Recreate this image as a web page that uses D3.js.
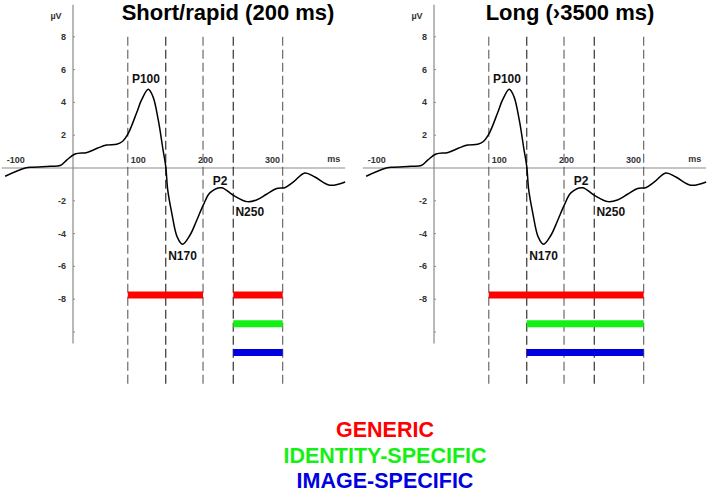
<!DOCTYPE html>
<html>
<head>
<meta charset="utf-8">
<script src="https://cdn.jsdelivr.net/npm/d3@7"></script>
<style>
  body { margin: 0; background: #fff; }
  svg { display: block; font-family: Arial, "Liberation Sans", sans-serif; }
</style>
</head>
<body>
<svg id="chart" width="708" height="493"></svg>
<script>
// ERP waveform (same in both panels), ms and µV
const waveMs = [-101, -71, -60, -34, -19, -9, 3, 21, 36, 50, 65, 73, 82, 95, 102, 112, 119, 127, 134, 138,
  141, 147, 155, 163, 174, 184, 194, 204, 221, 238, 259, 273, 288, 303, 315, 328, 345, 360, 382, 405];
const waveUv = [-0.5, 0, 0.05, 0.1, 0.15, 0.5, 0.85, 0.95, 1.2, 1.4, 1.45, 1.6, 2.1, 3.4, 4.15, 4.8, 4.35, 2.9, 1.1, 0.1,
  -1.35, -2.75, -4.2, -4.65, -4.1, -3.2, -2.25, -1.5, -1.2, -1.65, -2.05, -1.95, -1.6, -1.25, -1.2, -0.85, -0.3, -0.55, -1.05, -0.85];

const yTicks = [8, 6, 4, 2, -2, -4, -6, -8, -10];
const xTicks = [-100, 100, 200, 300];

// time-window boundaries (dashed lines), ms
const windowEdges = [81.5, 138, 193.5, 238.5, 312];

const panelTitles = ['Short/rapid (200 ms)', 'Long (\u203a3500 ms)'];

// effect bars per panel: [start ms, end ms]
const genericBars = [[[81.5, 193.5], [238.5, 312]], [[81.5, 312]]];
const identityBars = [[[238.5, 312]], [[138, 312]]];
const imageBars = [[[238.5, 312]], [[138, 312]]];

const peaks = [
  { name: 'P100', ms: 108.5, uv: 5.2 },
  { name: 'N170', ms: 163, uv: -5.6 },
  { name: 'P2', ms: 219, uv: -1.05 },
  { name: 'N250', ms: 263, uv: -2.9 }
];

const legendLabels = ['GENERIC', 'IDENTITY-SPECIFIC', 'IMAGE-SPECIFIC'];
const colors = ['#ff0000', '#14f014', '#0000e0'];

const svg = d3.select('#chart');

const axisX = [73, 434];
const titleX = [228, 570];

const y = d3.scaleLinear().domain([-10, 8]).range([332, 36.8]);

panelTitles.forEach((title, p) => {
  const x0 = axisX[p];
  const x = d3.scaleLinear().domain([0, 100]).range([x0, x0 + 67.2]);
  const g = svg.append('g');

  // axes
  g.append('line')
    .attr('x1', x(-106)).attr('x2', x(405))
    .attr('y1', y(0)).attr('y2', y(0))
    .attr('stroke', '#8a8a8a').attr('stroke-width', 1.2);
  g.append('line')
    .attr('x1', x0).attr('x2', x0)
    .attr('y1', y(9.95)).attr('y2', y(-10.7))
    .attr('stroke', '#8a8a8a').attr('stroke-width', 1.2);

  // y ticks
  yTicks.forEach(t => {
    g.append('line')
      .attr('x1', x0).attr('x2', x0 + 2)
      .attr('y1', y(t)).attr('y2', y(t))
      .attr('stroke', '#8a8a8a');
    if (t !== -10) {
      g.append('text')
        .attr('x', x0 - 7).attr('y', y(t) + 3)
        .attr('text-anchor', 'end')
        .attr('font-size', '9px').attr('font-weight', 'bold')
        .attr('fill', '#333')
        .text(t);
    }
  });
  g.append('text')
    .attr('x', x0 - 17).attr('y', 19)
    .attr('text-anchor', 'middle')
    .attr('font-size', '9px').attr('font-weight', 'bold')
    .attr('fill', '#333')
    .text('\u00b5V');

  // x tick labels
  xTicks.forEach(t => {
    g.append('text')
      .attr('x', t === -100 ? x(t) + 1 : x(t) - 2)
      .attr('y', y(0) - 5)
      .attr('text-anchor', t === -100 ? 'start' : 'middle')
      .attr('font-size', '9px').attr('font-weight', 'bold')
      .attr('fill', '#333')
      .text(t);
  });
  g.append('text')
    .attr('x', x(388)).attr('y', y(0) - 6)
    .attr('text-anchor', 'middle')
    .attr('font-size', '9px').attr('font-weight', 'bold')
    .attr('fill', '#333')
    .text('ms');

  // dashed window lines
  windowEdges.forEach((ms, i) => {
    g.append('line')
      .attr('x1', x(ms)).attr('x2', x(ms))
      .attr('y1', y(8)).attr('y2', y(-13.35))
      .attr('stroke', i % 2 === 0 ? '#6a6a6a' : '#333')
      .attr('stroke-width', 1.2)
      .attr('stroke-dasharray', '9,4');
  });

  // effect bars
  [genericBars, identityBars, imageBars].forEach((set, k) => {
    const level = [-7.75, -9.5, -11.25][k];
    set[p].forEach(b => {
      g.append('line')
        .attr('x1', x(b[0])).attr('x2', x(b[1]))
        .attr('y1', y(level)).attr('y2', y(level))
        .attr('stroke', colors[k])
        .attr('stroke-width', 7);
    });
  });

  // waveform
  const line = d3.line()
    .x((d, i) => x(waveMs[i]))
    .y(d => y(d))
    .curve(d3.curveCatmullRom.alpha(0.5));
  g.append('path')
    .datum(waveUv)
    .attr('d', line)
    .attr('fill', 'none')
    .attr('stroke', '#000')
    .attr('stroke-width', 1.5);

  // peak labels
  peaks.forEach(pk => {
    g.append('text')
      .attr('x', x(pk.ms)).attr('y', y(pk.uv))
      .attr('text-anchor', 'middle')
      .attr('font-size', '12px').attr('font-weight', 'bold')
      .attr('fill', '#111')
      .text(pk.name);
  });

  // title
  g.append('text')
    .attr('x', titleX[p]).attr('y', 20)
    .attr('text-anchor', 'middle')
    .attr('font-size', '22px').attr('font-weight', 'bold')
    .attr('fill', '#000')
    .text(title);
});

// legend
legendLabels.forEach((lab, i) => {
  svg.append('text')
    .attr('x', 385).attr('y', [437, 463, 488][i])
    .attr('text-anchor', 'middle')
    .attr('font-size', '21.5px').attr('font-weight', 'bold')
    .attr('fill', colors[i])
    .text(lab);
});
</script>
</body>
</html>
